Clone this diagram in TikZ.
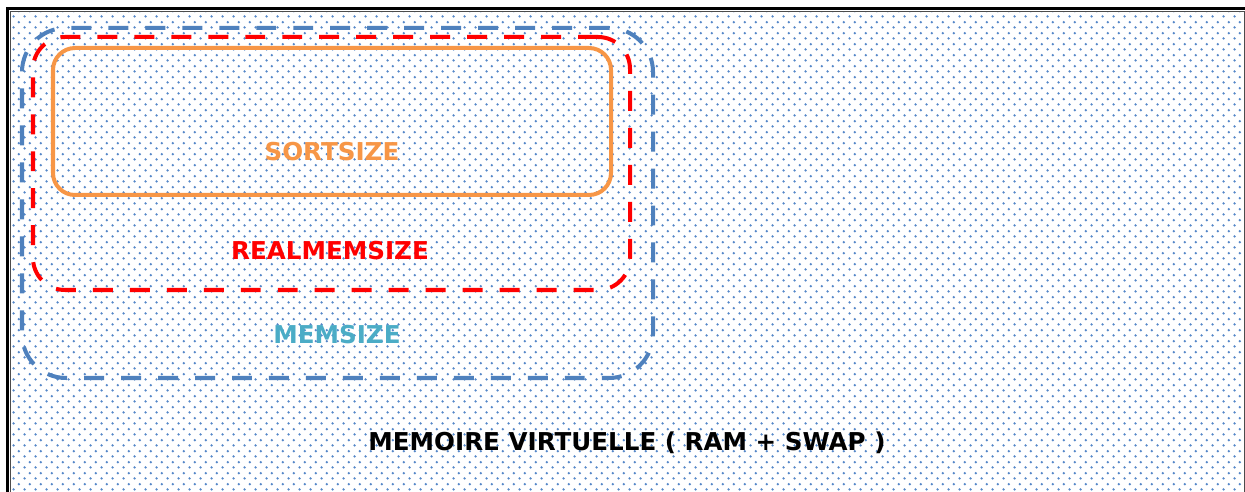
\documentclass[tikz,border=0pt]{standalone}
\usepackage{fontspec}
\setmainfont{DejaVu Sans}
\usepackage{xcolor}
\usepackage{tikz}
\usetikzlibrary{patterns, positioning}
\definecolor{memblue}{RGB}{79,129,189}
\definecolor{memred}{RGB}{255,0,0}
\definecolor{memorange}{RGB}{247,150,70}
\definecolor{memteal}{RGB}{75,172,198}
\definecolor{memdot}{RGB}{85,135,200}
\pgfdeclarepatternformonly{memdots}{\pgfpointorigin}{\pgfqpoint{7.6pt}{7.6pt}}{\pgfqpoint{7.6pt}{7.6pt}}{%
  \pgfpathcircle{\pgfqpoint{1.9pt}{1.9pt}}{0.95pt}%
  \pgfpathcircle{\pgfqpoint{5.7pt}{5.7pt}}{0.95pt}%
  \pgfusepath{fill}}

\begin{document}
\begin{tikzpicture}[
    lbl/.style={font=\fontsize{17.5}{20}\selectfont\bfseries, inner sep=0pt},
    zone/.style={rectangle, inner sep=0pt, line width=2.85pt}]
  \useasboundingbox (0,0) rectangle (31.125,12.3);
  % cadre + fond
  \fill[pattern=memdots, pattern color=memdot] (0.26,-1) rectangle (31.1,12.0125);
  \draw[line width=2.1pt, black] (0.1875,-1) rectangle (31.3,12.0875);
  \draw[line width=0.6pt, black!70] (0.26,-1) rectangle (31.1,12.0125);
  % zones
  \node[zone, draw=memblue, dash pattern=on 14.2pt off 12.1pt, rounded corners=1.1cm,
        minimum width=15.775cm, minimum height=8.75cm] (memsize) at (8.4375,7.225) {};
  \node[zone, draw=memred, dash pattern=on 14.2pt off 12.1pt, rounded corners=0.8cm,
        minimum width=14.925cm, minimum height=6.325cm] (realmem) at (8.2875,8.2125) {};
  \node[zone, draw=memorange, rounded corners=0.55cm,
        minimum width=13.95cm, minimum height=3.675cm] (sortsize) at (8.3,9.2625) {};
  % textes
  \node[lbl, text=memorange] (sortlbl) at (8.3,8.5) {SORTSIZE};
  \node[lbl, text=memred] (reallbl) at (8.25,6.025) {REALMEMSIZE};
  \node[lbl, text=memteal] (memlbl) at (8.425,3.925) {MEMSIZE};
  \node[lbl, text=black] (virtlbl) at (15.675,1.225) {MEMOIRE VIRTUELLE ( RAM + SWAP )};
\end{tikzpicture}
\end{document}
